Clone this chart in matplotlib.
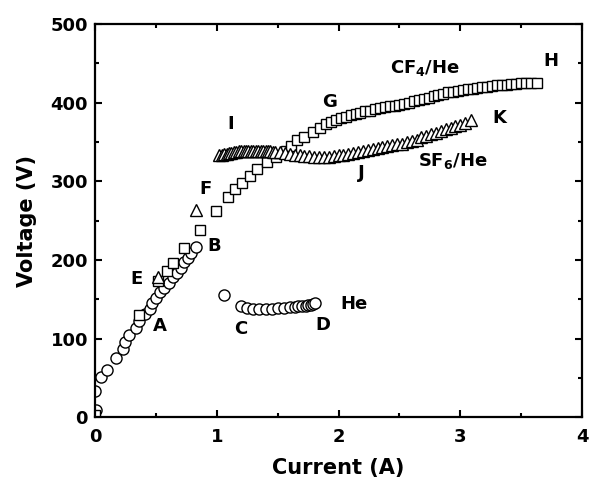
import matplotlib
matplotlib.use('Agg')
import matplotlib.pyplot as plt
from matplotlib.ticker import MultipleLocator

plt.rcParams['font.family'] = ['DejaVu Sans']
plt.rcParams['font.weight'] = 'bold'
plt.rcParams['mathtext.fontset'] = 'dejavusans'
plt.rcParams['mathtext.default'] = 'bf'

# He (circles)
he_i = [0.01, 0.0, 0.05, 0.10, 0.17, 0.23, 0.25, 0.28, 0.34, 0.36, 0.41, 0.45, 0.47, 0.50,
        0.53, 0.57, 0.61, 0.64, 0.67, 0.71, 0.73, 0.76, 0.79, 0.83,
        1.06, 1.20, 1.25, 1.30, 1.35, 1.40, 1.45, 1.50, 1.55, 1.60, 1.64, 1.67, 1.70,
        1.73, 1.75, 1.77, 1.79, 1.81]
he_v = [9, 33, 51, 60, 76, 87, 96, 105, 114, 122, 131, 138, 145, 152,
        159, 165, 171, 178, 184, 190, 197, 203, 209, 216,
        156, 141, 139, 138, 138, 138, 138, 139, 139, 140, 140, 141, 142,
        142, 143, 143, 144, 145]

# CF4/He (squares)
cf4_i = [0.0, 0.36, 0.52, 0.59, 0.64, 0.73, 0.86, 0.99, 1.09, 1.15, 1.21, 1.27, 1.33,
         1.41, 1.49, 1.57, 1.61, 1.66, 1.72, 1.79, 1.85,
         1.90, 1.94, 1.98, 2.02, 2.06, 2.10, 2.14, 2.18, 2.22, 2.26, 2.30, 2.34, 2.38,
         2.42, 2.46, 2.50, 2.54, 2.58, 2.62, 2.66, 2.70, 2.74, 2.78, 2.82, 2.86, 2.90,
         2.94, 2.98, 3.02, 3.06, 3.10, 3.14, 3.18, 3.22, 3.26, 3.30, 3.34, 3.38, 3.42,
         3.46, 3.50, 3.54, 3.58, 3.63]
cf4_v = [3, 130, 173, 186, 196, 215, 238, 262, 280, 290, 298, 307, 316,
         324, 331, 339, 345, 352, 356, 363, 368,
         373, 376, 378, 380, 382, 384, 386, 387, 389, 390, 392, 393, 395,
         396, 396, 397, 399, 400, 402, 403, 405, 406, 408, 410, 411, 413,
         414, 415, 416, 417, 418, 419, 420, 420, 421, 422, 423, 423, 424,
         424, 425, 425, 425, 425]

# SF6/He (triangles)
sf6_i = [0.52, 0.83,
         1.02, 1.04, 1.06, 1.08, 1.10, 1.12, 1.14, 1.16, 1.18, 1.20, 1.22, 1.24,
         1.26, 1.28, 1.30, 1.32, 1.34, 1.36, 1.38, 1.40, 1.42, 1.44, 1.46,
         1.48, 1.52, 1.56, 1.60, 1.64, 1.68, 1.72, 1.76, 1.80, 1.84, 1.88, 1.92,
         1.96, 2.00, 2.04, 2.08, 2.12, 2.16, 2.20, 2.24, 2.28, 2.32, 2.36, 2.40,
         2.44, 2.48, 2.52, 2.56, 2.60, 2.64, 2.68, 2.72, 2.76, 2.80, 2.84, 2.88,
         2.92, 2.96, 3.00, 3.04, 3.09]
sf6_v = [178, 263,
         333, 334, 335, 335, 336, 336, 337, 337, 338, 338, 338, 338,
         339, 339, 339, 339, 339, 339, 338, 338, 338, 338, 337,
         337, 337, 336, 335, 334, 333, 332, 332, 331, 331, 331, 331,
         332, 333, 334, 335, 336, 337, 339, 340, 341, 343, 344, 345,
         346, 347, 348, 350, 351, 353, 356, 358, 360, 362, 364, 366,
         368, 370, 372, 374, 378]

labels = ['A', 'B', 'C', 'D', 'He', 'E', 'F', 'G', 'I', 'J', 'K', 'H',
          'SF$_6$/He', 'CF$_4$/He']
label_x = [0.53, 0.98, 1.20, 1.87, 2.13, 0.34, 0.91, 1.93, 1.11, 2.19, 3.32, 3.74,
           2.94, 2.71]
label_y = [116, 218, 112, 118, 144, 176, 290, 401, 373, 311, 380, 453, 326, 444]

fig = plt.figure(figsize=(5.94, 4.91), dpi=100)
ax = fig.add_axes([0.160, 0.150, 0.820, 0.801])

mk = dict(linestyle='none', markerfacecolor='white', markeredgecolor='black',
          markeredgewidth=1.0)
ax.plot(he_i, he_v, marker='o', markersize=8, **mk)
ax.plot(cf4_i, cf4_v, marker='s', markersize=7, **mk)
ax.plot(sf6_i, sf6_v, marker='^', markersize=8.5, **mk)

for t, x, y in zip(labels, label_x, label_y):
    ax.text(x, y, t, fontsize=13, fontweight='bold', ha='center', va='center')

ax.set_xlim(0, 4)
ax.set_ylim(0, 500)
ax.xaxis.set_major_locator(MultipleLocator(1))
ax.xaxis.set_minor_locator(MultipleLocator(0.5))
ax.yaxis.set_major_locator(MultipleLocator(100))
ax.yaxis.set_minor_locator(MultipleLocator(50))
ax.tick_params(which='both', direction='in', top=True, right=True, width=1.5,
               labelsize=13)
ax.tick_params(which='major', length=5)
ax.tick_params(axis='x', which='major', pad=8)
ax.tick_params(axis='y', which='major', pad=5)
ax.tick_params(which='minor', length=3)
for s in ax.spines.values():
    s.set_linewidth(1.6)
for lab in ax.get_xticklabels() + ax.get_yticklabels():
    lab.set_fontweight('bold')

ax.set_xlabel('Current (A)', fontsize=15, fontweight='bold', labelpad=8)
ax.set_ylabel('Voltage (V)', fontsize=15, fontweight='bold', labelpad=10)

fig.savefig('out.png', dpi=100)
